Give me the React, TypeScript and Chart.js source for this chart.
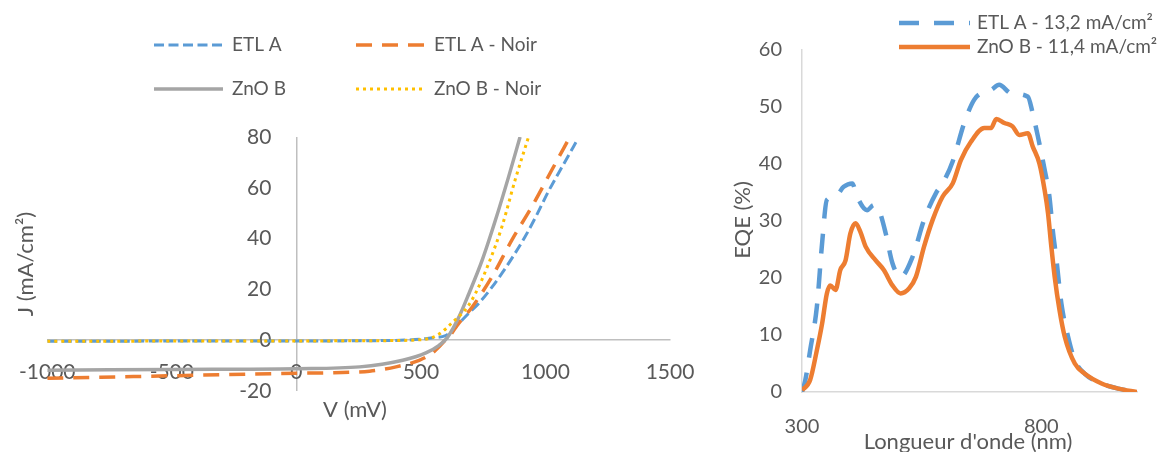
import React, { useEffect, useRef } from 'react';
import { Chart, registerables } from 'chart.js';

Chart.register(...registerables);

const FONT = 'Lato, "Open Sans", "DejaVu Sans", sans-serif';
const TEXT = '#595959';

// ---------- J-V data (V in mV, J in mA/cm²) ----------
const etlA_V = [-1000, -500, 0, 300, 500, 546, 599, 625, 653, 690, 732, 780, 825, 870, 918, 965, 1011, 1070, 1131];
const etlA_J = [-0.4, -0.35, -0.3, -0.2, 0.4, 1.0, 1.8, 3.8, 6.6, 10.4, 14.5, 20.2, 26.3, 33.0, 40.7, 49.3, 58.4, 68.8, 79.4];

const etlANoir_V = [-1000, -500, 0, 150, 294, 400, 493, 540, 573, 600, 620, 646, 706, 785, 865, 945, 1025, 1098];
const etlANoir_J = [-15.0, -14.0, -13.0, -12.8, -12.2, -10.5, -7.9, -5.5, -2.6, 0.3, 2.2, 5.9, 13.1, 24.9, 39.4, 52.5, 66.9, 80];

const znoB_V = [-1000, -500, 0, 254, 427, 520, 573, 606, 653, 693, 746, 799, 852, 898];
const znoB_J = [-11.8, -11.5, -11.2, -10.5, -7.9, -5.0, -2.0, 1.0, 9.2, 18.4, 31.5, 47.2, 64.3, 80];

const znoBNoir_V = [-1000, -500, 0, 300, 500, 550, 573, 600, 626, 660, 690, 719, 772, 825, 878, 932];
const znoBNoir_J = [-0.4, -0.35, -0.3, -0.2, 0.2, 1.2, 2.4, 4.5, 7.0, 10.0, 13.5, 18.4, 30.2, 44.6, 63, 80];

const jvLabels = ['ETL A', 'ETL A - Noir', 'ZnO B', 'ZnO B - Noir'];

// ---------- EQE data (nm, %) ----------
const eqeEtlA_nm = [300, 307, 317, 331, 342, 352, 370, 387, 405, 415, 436, 450, 461, 475, 489, 506, 531, 555, 580, 594, 615, 639, 660, 681, 695, 712, 737, 772, 782, 793, 807, 817, 824, 831, 842, 856, 870, 891, 926, 961, 1000];
const eqeEtlA_val = [0, 2.1, 7.3, 14.9, 26.1, 33.7, 34.3, 36, 36.6, 34.3, 31.9, 32.8, 31.9, 27.8, 22.6, 20.2, 23.7, 30.2, 34.9, 36.6, 40.5, 47.2, 51.3, 52.7, 53, 53.9, 52.4, 51.8, 48.9, 44.8, 39, 34.3, 28.4, 23.7, 15.5, 9.7, 5.6, 3.2, 1.5, 0.6, 0];

const eqeZnoB_nm = [300, 317, 331, 342, 352, 359, 370, 380, 391, 401, 412, 422, 433, 454, 471, 489, 506, 524, 538, 555, 573, 594, 615, 632, 653, 681, 695, 706, 723, 740, 754, 772, 782, 796, 807, 814, 821, 828, 838, 849, 870, 891, 926, 961, 1000];
const eqeZnoB_val = [0.3, 2.1, 7.3, 12, 17.3, 18.7, 17.9, 21.4, 23.1, 27.8, 29.6, 28.1, 25.5, 23.1, 21.4, 18.7, 17.3, 18.2, 20.2, 25.5, 30.2, 34.3, 36.6, 40.7, 43.9, 46.3, 46.3, 47.9, 47.2, 46.6, 45.1, 45.4, 43.1, 40.1, 35.4, 31.4, 25.5, 20.2, 14.4, 9.7, 5.0, 3.2, 1.5, 0.6, 0];

const eqeLabels = ['ETL A - 13,2 mA/cm²', 'ZnO B - 11,4 mA/cm²'];

// ---------- ticks ----------
const jvTicksX = [-1000, -500, 0, 500, 1000, 1500];
const jvTicksY = [-20, 0, 20, 40, 60, 80];
const eqeTicksX = [300, 800];
const eqeTicksY = [0, 10, 20, 30, 40, 50, 60];

const pts = (xs: number[], ys: number[]) => xs.map((x, i) => ({ x, y: ys[i] }));
const plain = (v: any) => String(v);

type Slot = { x: number; y: number };
type TitleSpec = { text: string; x: number; y: number; rot?: boolean };

function overlayPlugin(cfg: {
  slots: Slot[];
  sample: number;
  gap: number;
  legendFont: string;
  titleFont: string;
  titles: TitleSpec[];
}) {
  return {
    id: 'overlay',
    afterDraw(chart: any) {
      const ctx = chart.ctx as CanvasRenderingContext2D;
      ctx.save();
      chart.data.datasets.forEach((ds: any, i: number) => {
        const s = cfg.slots[i];
        if (!s) return;
        ctx.beginPath();
        ctx.setLineDash(ds.borderDash || []);
        ctx.lineWidth = ds.borderWidth;
        ctx.strokeStyle = ds.borderColor;
        ctx.lineCap = ds.borderCapStyle || 'butt';
        ctx.moveTo(s.x, s.y);
        ctx.lineTo(s.x + cfg.sample, s.y);
        ctx.stroke();
        ctx.setLineDash([]);
        ctx.fillStyle = TEXT;
        ctx.font = cfg.legendFont;
        ctx.textAlign = 'left';
        ctx.textBaseline = 'middle';
        ctx.fillText(ds.label, s.x + cfg.gap, s.y);
      });
      ctx.font = cfg.titleFont;
      ctx.fillStyle = TEXT;
      ctx.textAlign = 'center';
      ctx.textBaseline = 'middle';
      cfg.titles.forEach((t) => {
        ctx.save();
        ctx.translate(t.x, t.y);
        if (t.rot) ctx.rotate(-Math.PI / 2);
        ctx.fillText(t.text, 0, 0);
        ctx.restore();
      });
      ctx.restore();
    },
  };
}

const zeroW = (s: any) => { s.width = 0; };
const zeroH = (s: any) => { s.height = 0; };

function JVChart() {
  const ref = useRef<HTMLCanvasElement>(null);
  useEffect(() => {
    if (!ref.current) return;
    const common = { pointRadius: 0, showLine: true, fill: false, cubicInterpolationMode: 'monotone' as const };
    const chart = new Chart(ref.current, {
      type: 'scatter',
      data: {
        datasets: [
          { ...common, label: jvLabels[0], data: pts(etlA_V, etlA_J), borderColor: '#5B9BD5', backgroundColor: '#5B9BD5', borderWidth: 3, borderDash: [10, 4.5], order: 3 },
          { ...common, label: jvLabels[1], data: pts(etlANoir_V, etlANoir_J), borderColor: '#ED7D31', backgroundColor: '#ED7D31', borderWidth: 3.5, borderDash: [16, 10], order: 2 },
          { ...common, label: jvLabels[2], data: pts(znoB_V, znoB_J), borderColor: '#A5A5A5', backgroundColor: '#A5A5A5', borderWidth: 3.5, order: 1 },
          { ...common, label: jvLabels[3], data: pts(znoBNoir_V, znoBNoir_J), borderColor: '#FFC000', backgroundColor: '#FFC000', borderWidth: 3, borderDash: [3, 4], order: 0 },
        ],
      },
      options: {
        animation: false,
        responsive: false,
        devicePixelRatio: 1,
        layout: { padding: { left: 41, right: 50, top: 137, bottom: 61 } },
        plugins: { legend: { display: false }, tooltip: { enabled: false } },
        scales: {
          x: {
            type: 'linear',
            position: { y: 0 } as any,
            min: jvTicksX[0],
            max: jvTicksX[jvTicksX.length - 1],
            afterFit: zeroH,
            afterBuildTicks: (s: any) => { s.ticks = jvTicksX.map((v) => ({ value: v })); },
            grid: {
              display: true,
              drawTicks: false,
              lineWidth: 1.5,
              color: (c: any) => (c.tick && c.tick.value === 0 ? '#BFBFBF' : 'rgba(0,0,0,0)'),
            },
            border: { display: true, color: '#BFBFBF', width: 1.5 },
            ticks: { color: TEXT, font: { family: FONT, size: 21 }, padding: 19, maxRotation: 0, autoSkip: false, callback: plain },
          },
          y: {
            type: 'linear',
            position: { x: -100 } as any,
            min: jvTicksY[0],
            max: jvTicksY[jvTicksY.length - 1],
            afterFit: zeroW,
            afterBuildTicks: (s: any) => { s.ticks = jvTicksY.map((v) => ({ value: v })); },
            grid: { display: false, drawTicks: false },
            border: { display: false },
            ticks: { color: TEXT, font: { family: FONT, size: 21 }, padding: 0, autoSkip: false, callback: plain },
          },
        },
      },
      plugins: [
        overlayPlugin({
          slots: [ { x: 154, y: 45 }, { x: 356, y: 45 }, { x: 154, y: 89 }, { x: 356, y: 89 } ],
          sample: 69,
          gap: 78,
          legendFont: `19px ${FONT}`,
          titleFont: `22px ${FONT}`,
          titles: [
            { text: 'J (mA/cm²)', x: 26, y: 264, rot: true },
            { text: 'V (mV)', x: 355, y: 410 },
          ],
        }),
      ],
    });
    return () => chart.destroy();
  }, []);
  return <canvas ref={ref} width={720} height={452} style={{ position: 'absolute', left: 0, top: 0 }} />;
}

function EQEChart() {
  const ref = useRef<HTMLCanvasElement>(null);
  useEffect(() => {
    if (!ref.current) return;
    const common = { pointRadius: 0, showLine: true, fill: false, cubicInterpolationMode: 'monotone' as const };
    const chart = new Chart(ref.current, {
      type: 'scatter',
      data: {
        datasets: [
          { ...common, label: eqeLabels[0], data: pts(eqeEtlA_nm, eqeEtlA_val), borderColor: '#5B9BD5', backgroundColor: '#5B9BD5', borderWidth: 4.5, borderDash: [20, 15], order: 1 },
          { ...common, label: eqeLabels[1], data: pts(eqeZnoB_nm, eqeZnoB_val), borderColor: '#ED7D31', backgroundColor: '#ED7D31', borderWidth: 4.5, order: 0 },
        ],
      },
      options: {
        animation: false,
        responsive: false,
        devicePixelRatio: 1,
        layout: { padding: { left: 0, right: 24, top: 50, bottom: 0 } },
        plugins: { legend: { display: false }, tooltip: { enabled: false } },
        scales: {
          x: {
            type: 'linear',
            position: 'bottom',
            min: 300,
            max: 1000,
            afterFit: (s: any) => { s.height = 60; },
            afterBuildTicks: (s: any) => { s.ticks = eqeTicksX.map((v) => ({ value: v })); },
            grid: { display: false, drawTicks: false },
            border: { display: true, color: '#D9D9D9', width: 1.5 },
            ticks: { color: TEXT, font: { family: FONT, size: 20 }, padding: 23, maxRotation: 0, autoSkip: false, callback: plain },
          },
          y: {
            type: 'linear',
            position: 'left',
            min: eqeTicksY[0],
            max: eqeTicksY[eqeTicksY.length - 1],
            afterFit: (s: any) => { s.width = 82; },
            afterBuildTicks: (s: any) => { s.ticks = eqeTicksY.map((v) => ({ value: v })); },
            grid: { display: false, drawTicks: false },
            border: { display: true, color: '#D9D9D9', width: 1.5 },
            ticks: { color: TEXT, font: { family: FONT, size: 20 }, padding: 20, autoSkip: false, callback: plain },
          },
        },
      },
      plugins: [
        overlayPlugin({
          slots: [ { x: 179, y: 23 }, { x: 179, y: 47 } ],
          sample: 71,
          gap: 78,
          legendFont: `19px ${FONT}`,
          titleFont: `22px ${FONT}`,
          titles: [
            { text: 'EQE (%)', x: 23, y: 220, rot: true },
            { text: "Longueur d'onde (nm)", x: 248, y: 442 },
          ],
        }),
      ],
    });
    return () => chart.destroy();
  }, []);
  return <canvas ref={ref} width={441} height={452} style={{ position: 'absolute', left: 720, top: 0 }} />;
}

export default function App() {
  return (
    <div style={{ position: 'fixed', left: 0, top: 0, width: 1161, height: 452, background: '#FFFFFF', overflow: 'hidden' }}>
      <JVChart />
      <EQEChart />
    </div>
  );
}
